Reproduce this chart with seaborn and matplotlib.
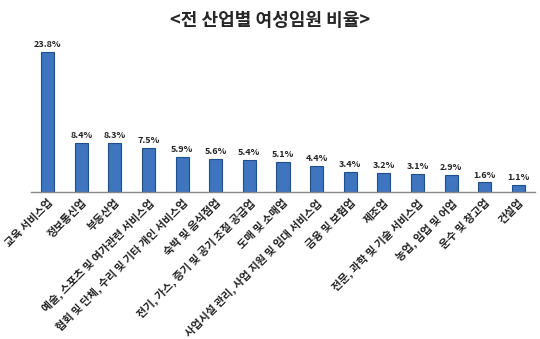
import matplotlib
matplotlib.use("Agg")
import matplotlib.pyplot as plt
import seaborn as sns
import pandas as pd

categories = [
    "교육 서비스업", "정보통신업", "부동산업", "예술, 스포츠 및 여가관련 서비스업",
    "협회 및 단체, 수리 및 기타 개인 서비스업", "숙박 및 음식점업",
    "전기, 가스, 증기 및 공기 조절 공급업", "도매 및 소매업",
    "사업시설 관리, 사업 지원 및 임대 서비스업", "금융 및 보험업", "제조업",
    "전문, 과학 및 기술 서비스업", "농업, 임업 및 어업", "운수 및 창고업", "건설업",
]
values = [23.8, 8.4, 8.3, 7.5, 5.9, 5.6, 5.4, 5.1, 4.4, 3.4, 3.2, 3.1, 2.9, 1.6, 1.1]
title = "<전 산업별 여성임원 비율>"

sns.set_theme(style="white")
plt.rcParams["font.family"] = ["Noto Sans CJK KR", "DejaVu Sans"]

df = pd.DataFrame({"cat": categories, "val": values})
fig = plt.figure(figsize=(5.4, 3.39), dpi=100)
ax = fig.add_axes([0.057, 0.434, 0.934, 0.433])
sns.barplot(data=df, x="cat", y="val", color="#3F74BE", width=0.39,
            edgecolor="#1F4E8C", linewidth=0.8, saturation=1, ax=ax)
for i, v in enumerate(values):
    ax.text(i, v + 0.5, f"{v}%", ha="center", va="bottom", fontsize=6.5,
            fontweight="bold", color="#222222")
ax.set_ylim(0, 25)
ax.set_xlim(-0.5, len(values) - 0.5)
ax.set_xlabel("")
ax.set_ylabel("")
ax.set_yticks([])
for s in ["top", "right", "left"]:
    ax.spines[s].set_visible(False)
ax.spines["bottom"].set_color("#888888")
ax.spines["bottom"].set_linewidth(1)
ax.tick_params(axis="x", length=0, pad=4)
ax.set_xticks(range(len(categories)))
ax.set_xticklabels(categories, rotation=45, ha="right", rotation_mode="anchor",
                   fontsize=7.8, fontweight="bold", color="#222222")
fig.text(0.5, 0.94, title, ha="center", va="center", fontsize=13, fontweight="bold")
fig.savefig("out.png", dpi=100)
